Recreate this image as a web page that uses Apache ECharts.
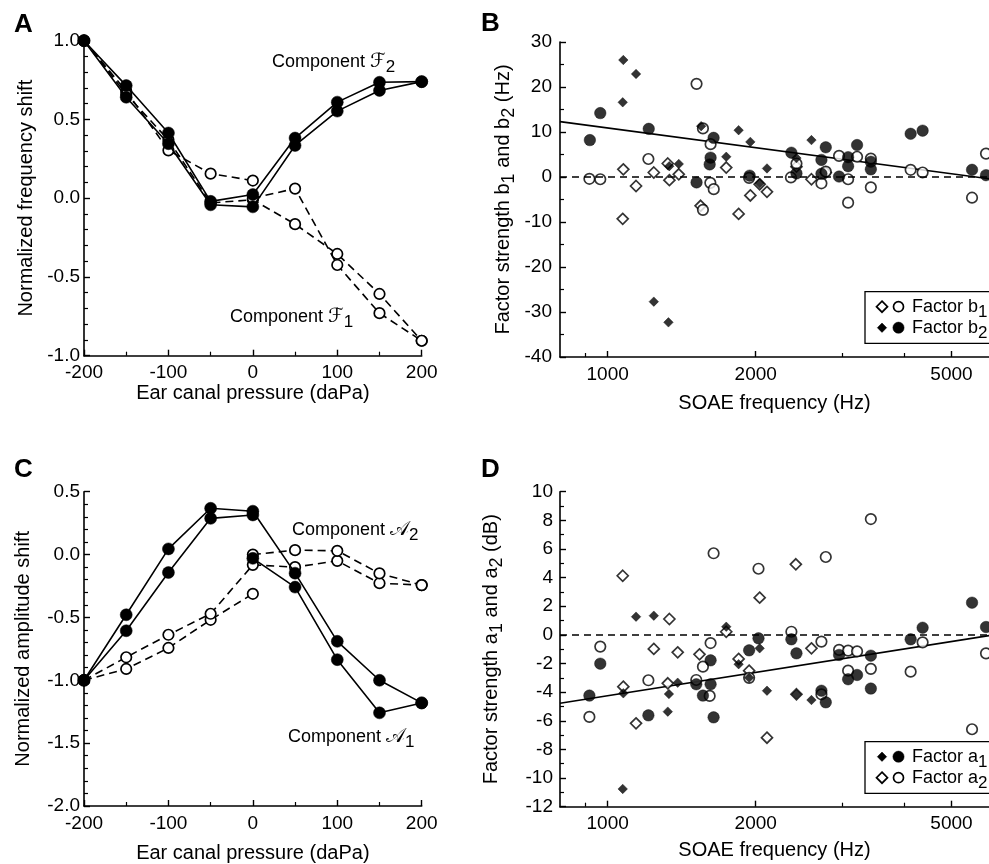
<!DOCTYPE html>
<html>
<head>
<meta charset="utf-8">
<script src="https://cdn.jsdelivr.net/npm/echarts@6/dist/echarts.min.js"></script>
<style>
  html, body { margin: 0; padding: 0; background: #ffffff; }
  #chart { width: 989px; height: 864px; }
</style>
</head>
<body>
<div id="chart"></div>
<script>
// ---------- Panels A and C: component shifts versus ear canal pressure ----------
const pressure = [-200, -150, -100, -50, 0, 50, 100, 150, 200];

// A: normalized frequency shift (F2 solid/filled, F1 dashed/open)
const freqF2a = [1.0, 0.715, 0.414, -0.020, 0.023, 0.382, 0.610, 0.736, 0.740];
const freqF2b = [1.0, 0.641, 0.346, -0.042, -0.055, 0.335, 0.553, 0.684, 0.740];
const freqF1a = [1.0, 0.680, 0.304, 0.156, 0.112, null, null, null, null];
const freqF1b = [1.0, 0.660, 0.370, -0.030, -0.010, -0.165, -0.354, -0.608, -0.905];
const freqF1c = [null, null, null, null, 0.000, 0.061, -0.424, -0.730, -0.905];

// C: normalized amplitude shift (A1 solid/filled, A2 dashed/open)
const ampA1a = [-1.0, -0.479, 0.045, 0.368, 0.345, -0.148, -0.690, -1.000, -1.180];
const ampA1b = [-1.0, -0.606, -0.143, 0.288, 0.315, null, null, null, null];
const ampA1c = [null, null, null, null, -0.030, -0.259, -0.836, -1.259, -1.180];
const ampA2a = [-1.0, -0.910, -0.743, -0.519, -0.312, null, null, null, null];
const ampA2b = [-1.0, -0.817, -0.638, -0.471, -0.082, -0.100, -0.050, -0.228, -0.243];
const ampA2c = [null, null, null, null, 0.000, 0.035, 0.030, -0.150, -0.243];

// ---------- Panels B and D: factor strengths versus SOAE frequency ----------
const freqTicks = [1000, 2000, 5000];
const freqMinorTicks = [900, 3000, 4000];
const freqRange = [800, 5960];

// B: factor b1 (open), b2 (filled) in Hz
const b1DiamondFreq = [1076, 1073, 1142, 1241, 1325, 1335, 1395, 1545, 1742, 1846, 1950, 2037, 2108, 2420, 2596, 2776];
const b1DiamondVal  = [1.7, -9.3, -2.0, 1.0, 3.0, -0.7, 0.6, -6.4, 2.1, -8.2, -4.1, -1.6, -3.3, 2.3, -0.5, 1.0];
const b1CircleFreq  = [918, 966, 1210, 1516, 1562, 1619, 1617, 1643, 1562, 1939, 2358, 2420, 2720, 2776, 2954, 3082, 3082, 3214, 3428, 3428, 4130, 4368, 5505, 5877];
const b1CircleVal   = [-0.4, -0.5, 4.0, 20.7, 10.8, 7.3, -1.3, -2.7, -7.3, -0.2, -0.1, 3.0, -1.4, 1.2, 4.7, -0.5, -5.7, 4.5, 4.1, -2.3, 1.6, 1.0, -4.6, 5.2];
const b2DiamondFreq = [1076, 1142, 1073, 1241, 1329, 1549, 1334, 1395, 1742, 1846, 1950, 2108, 2037, 2596, 2420];
const b2DiamondVal  = [26.0, 22.9, 16.6, -27.7, -32.3, 11.3, 2.4, 2.9, 4.5, 10.4, 7.8, 1.9, -1.4, 8.2, 4.2];
const b2CircleFreq  = [920, 966, 1212, 1516, 1642, 1619, 1612, 1944, 2363, 2420, 2720, 2776, 2720, 2954, 3082, 3082, 3214, 3428, 3428, 4130, 4368, 5505, 5877];
const b2CircleVal   = [8.2, 14.2, 10.7, -1.2, 8.7, 4.3, 2.8, 0.3, 5.4, 0.8, 3.8, 6.6, 0.7, 0.1, 4.4, 2.4, 7.1, 3.4, 1.7, 9.6, 10.3, 1.6, 0.4];
const bTrend = [12.3, -0.4];   // regression line at freqRange ends

// D: factor a1 (filled), a2 (open) in dB
const a1DiamondFreq = [1142, 1241, 1073, 1076, 1332, 1325, 1388, 1742, 1846, 1939, 2037, 2108, 2420, 2596];
const a1DiamondVal  = [1.27, 1.34, -10.76, -4.08, -4.13, -5.36, -3.34, 0.57, -2.05, -3.0, -0.94, -3.9, -4.15, -4.55];
const a1CircleFreq  = [918, 966, 1210, 1514, 1562, 1619, 1619, 1642, 1939, 2026, 2363, 2420, 2720, 2776, 2954, 3082, 3214, 3428, 3428, 4130, 4368, 5505, 5877];
const a1CircleVal   = [-4.24, -2.01, -5.62, -3.45, -4.24, -1.78, -3.45, -5.76, -1.08, -0.24, -0.31, -1.29, -3.9, -4.71, -1.4, -3.1, -2.8, -1.45, -3.75, -0.31, 0.5, 2.25, 0.55];
const a2DiamondFreq = [1073, 1076, 1142, 1241, 1335, 1325, 1388, 1537, 1742, 1846, 1939, 2037, 2108, 2413, 2420, 2596];
const a2DiamondVal  = [4.13, -3.62, -6.18, -0.98, 1.11, -3.38, -1.22, -1.36, 0.22, -1.68, -2.5, 2.6, -7.18, 4.93, -4.15, -0.94];
const a2CircleFreq  = [918, 966, 1210, 1514, 1562, 1619, 1612, 1642, 1939, 2026, 2363, 2720, 2720, 2776, 2954, 3082, 3214, 3082, 3428, 3428, 4130, 4368, 5505, 5877];
const a2CircleVal   = [-5.73, -0.82, -3.17, -3.15, -2.22, -0.57, -4.26, 5.7, -3.0, 4.62, 0.22, -0.47, -4.15, 5.44, -1.05, -1.1, -1.15, -2.5, 8.09, -2.37, -2.57, -0.52, -6.59, -1.29];
const aTrend = [-4.78, -0.05];

// ---------- styling helpers ----------
const FONT = '"Liberation Sans", Arial, Helvetica, sans-serif';
const SCRIPT_FONT = '"DejaVu Serif", "DejaVu Sans", serif';
const INK = '#000000';
const lg = f => Math.log10(f);

const richText = {
  t: { fontFamily: FONT, fontSize: 18, color: INK },
  f: { fontFamily: SCRIPT_FONT, fontSize: 20, fontStyle: 'italic', color: INK },
  g: { fontFamily: SCRIPT_FONT, fontSize: 20, color: INK },
  s: { fontFamily: FONT, fontSize: 17, color: INK, padding: [11, 0, 0, 0] }
};

function valueAxisBase(grid) {
  return {
    gridIndex: grid,
    type: 'value',
    axisLine: { show: true, onZero: false, lineStyle: { color: INK, width: 1.6 } },
    axisTick: { show: true, inside: true, length: 6, lineStyle: { color: INK, width: 1.4 } },
    minorTick: { show: true, length: 4, lineStyle: { color: INK, width: 1.2 } },
    axisLabel: { color: INK, fontFamily: FONT, fontSize: 19 },
    splitLine: { show: false },
    minorSplitLine: { show: false },
    nameLocation: 'middle',
    nameTextStyle: { color: INK, fontFamily: FONT, fontSize: 20 }
  };
}

function pressureAxis(grid, gap) {
  const ax = valueAxisBase(grid);
  ax.min = -200; ax.max = 200; ax.interval = 100;
  ax.minorTick.splitNumber = 2;
  ax.axisLabel.margin = 8;
  ax.name = 'Ear canal pressure (daPa)';
  ax.nameGap = gap;
  return ax;
}

function freqAxis(grid, gap) {
  const ax = valueAxisBase(grid);
  ax.min = lg(freqRange[0]); ax.max = lg(freqRange[1]);
  ax.minorTick = { show: false };
  ax.axisTick.customValues = freqTicks.map(lg);
  ax.axisLabel.customValues = freqTicks.map(lg);
  ax.axisLabel.formatter = v => String(Math.round(Math.pow(10, v)));
  ax.axisLabel.margin = 8;
  ax.name = 'SOAE frequency (Hz)';
  ax.nameGap = gap;
  return ax;
}

function freqMinorAxis(grid) {
  return {
    gridIndex: grid, type: 'value', position: 'bottom',
    min: lg(freqRange[0]), max: lg(freqRange[1]),
    axisLine: { show: false, onZero: false },
    axisTick: { show: true, inside: true, length: 4, customValues: freqMinorTicks.map(lg), lineStyle: { color: INK, width: 1.2 } },
    axisLabel: { show: false },
    splitLine: { show: false }
  };
}

function yAxis(grid, min, max, interval, minorSplit, name, gap, margin, decimals, rich) {
  const ax = valueAxisBase(grid);
  ax.min = min; ax.max = max; ax.interval = interval;
  ax.minorTick.splitNumber = minorSplit;
  ax.axisLabel.margin = margin;
  ax.axisLabel.formatter = v => v.toFixed(decimals);
  ax.name = name;
  ax.nameGap = gap;
  if (rich) ax.nameTextStyle.rich = {
    t: { fontFamily: FONT, fontSize: 20, color: INK },
    s: { fontFamily: FONT, fontSize: 18, color: INK, padding: [11, 0, 0, 0] }
  };
  return ax;
}

function curve(axis, ys, filled) {
  return {
    type: 'line',
    xAxisIndex: axis.x, yAxisIndex: axis.y,
    data: pressure.map((p, i) => [p, ys[i] === null ? '-' : ys[i]]),
    connectNulls: false,
    symbol: 'circle',
    symbolSize: filled ? 12 : 10.5,
    showAllSymbol: true,
    lineStyle: { color: INK, width: 1.6, type: filled ? 'solid' : [8, 5] },
    itemStyle: filled
      ? { color: INK, borderColor: INK, borderWidth: 0.5 }
      : { color: '#ffffff', borderColor: INK, borderWidth: 1.7 },
    emphasis: { disabled: true },
    animation: false,
    z: filled ? 3 : 2
  };
}

function dots(axis, freqs, vals, shape, filled) {
  const isDiamond = shape === 'diamond';
  return {
    type: 'scatter',
    xAxisIndex: axis.x, yAxisIndex: axis.y,
    data: freqs.map((f, i) => [lg(f), vals[i]]),
    symbol: shape,
    symbolSize: isDiamond ? (filled ? 9.5 : 11) : (filled ? 11.5 : 10.5),
    clip: false,
    itemStyle: filled
      ? { color: INK, borderColor: INK, borderWidth: 0.5 }
      : { color: '#ffffff', borderColor: INK, borderWidth: 1.7 },
    emphasis: { disabled: true },
    animation: false,
    z: filled ? 4 : 3
  };
}

function trend(axis, vals) {
  return {
    type: 'line',
    xAxisIndex: axis.x, yAxisIndex: axis.y,
    data: freqRange.map((f, i) => [lg(f), vals[i]]),
    symbol: 'none',
    lineStyle: { color: INK, width: 1.6 },
    emphasis: { disabled: true },
    animation: false,
    z: 2,
    markLine: {
      silent: true, symbol: 'none', animation: false,
      label: { show: false },
      lineStyle: { color: INK, width: 1.5, type: [7, 5] },
      data: [{ yAxis: 0 }]
    }
  };
}

// ---------- legend boxes and labels ----------
function diamondPts(cx, cy, h) {
  return [[cx, cy - h], [cx + h, cy], [cx, cy + h], [cx - h, cy]];
}

function legendRow(x, y, filled, label) {
  const fill = filled ? INK : '#ffffff';
  const h = filled ? 4.7 : 5.5;
  return [
    { type: 'polygon', shape: { points: diamondPts(x + 17, y, h) },
      style: { fill: fill, stroke: INK, lineWidth: filled ? 0.5 : 1.7 }, z: 10 },
    { type: 'circle', shape: { cx: x + 33.5, cy: y, r: filled ? 5.6 : 5 },
      style: { fill: fill, stroke: INK, lineWidth: filled ? 0.5 : 1.7 }, z: 10 },
    { type: 'text', x: x + 47, y: y, z: 10,
      style: { text: label, rich: richText, verticalAlign: 'middle', align: 'left' } }
  ];
}

function legendBox(x, y, rows) {
  const els = [{ type: 'rect', shape: { x: x, y: y, width: 140, height: 51.6 },
    style: { fill: '#ffffff', stroke: INK, lineWidth: 1.3 }, z: 9 }];
  rows.forEach((r, i) => els.push(...legendRow(x, y + 15 + i * 21, r.filled, r.label)));
  return els;
}

function panelLetter(ch, x, y) {
  return { type: 'text', x: x, y: y, z: 10,
    style: { text: ch, fill: INK, font: 'bold 26px ' + FONT, verticalAlign: 'middle' } };
}

function note(text, x, y) {
  return { type: 'text', x: x, y: y, z: 10,
    style: { text: text, rich: richText, verticalAlign: 'middle', align: 'left' } };
}

const AX_A = { x: 0, y: 0 }, AX_B = { x: 1, y: 1 }, AX_C = { x: 3, y: 2 }, AX_D = { x: 4, y: 3 };

const option = {
  backgroundColor: '#ffffff',
  animation: false,
  grid: [
    { left: 84, top: 40.7, width: 337.7, height: 315 },
    { left: 560, top: 42, width: 429, height: 315 },
    { left: 84, top: 491.7, width: 337.7, height: 315 },
    { left: 560, top: 491.7, width: 429, height: 315 }
  ],
  xAxis: [
    pressureAxis(0, 28),
    freqAxis(1, 36),
    freqMinorAxis(1),
    pressureAxis(2, 37),
    freqAxis(3, 34),
    freqMinorAxis(3)
  ],
  yAxis: [
    yAxis(0, -1, 1, 0.5, 5, 'Normalized frequency shift', 48, 4, 1, false),
    yAxis(1, -40, 30, 10, 2, '{t|Factor strength b}{s|1}{t| and b}{s|2}{t| (Hz)}', 42, 8, 0, true),
    yAxis(2, -2, 0.5, 0.5, 5, 'Normalized amplitude shift', 51, 4, 1, false),
    yAxis(3, -12, 10, 2, 2, '{t|Factor strength a}{s|1}{t| and a}{s|2}{t| (dB)}', 54, 7, 0, true)
  ],
  series: [
    // A
    curve(AX_A, freqF1a, false),
    curve(AX_A, freqF1b, false),
    curve(AX_A, freqF1c, false),
    curve(AX_A, freqF2a, true),
    curve(AX_A, freqF2b, true),
    // B
    trend(AX_B, bTrend),
    dots(AX_B, b1DiamondFreq, b1DiamondVal, 'diamond', false),
    dots(AX_B, b1CircleFreq, b1CircleVal, 'circle', false),
    dots(AX_B, b2DiamondFreq, b2DiamondVal, 'diamond', true),
    dots(AX_B, b2CircleFreq, b2CircleVal, 'circle', true),
    // C
    curve(AX_C, ampA1a, true),
    curve(AX_C, ampA1b, true),
    curve(AX_C, ampA1c, true),
    curve(AX_C, ampA2a, false),
    curve(AX_C, ampA2b, false),
    curve(AX_C, ampA2c, false),
    // D
    trend(AX_D, aTrend),
    dots(AX_D, a2DiamondFreq, a2DiamondVal, 'diamond', false),
    dots(AX_D, a2CircleFreq, a2CircleVal, 'circle', false),
    dots(AX_D, a1DiamondFreq, a1DiamondVal, 'diamond', true),
    dots(AX_D, a1CircleFreq, a1CircleVal, 'circle', true)
  ],
  graphic: [
    panelLetter('A', 14, 25),
    panelLetter('B', 481, 24),
    panelLetter('C', 14, 470),
    panelLetter('D', 481, 470),
    note('{t|Component }{f|ℱ}{s|2}', 272, 62),
    note('{t|Component }{f|ℱ}{s|1}', 230, 317),
    note('{t|Component }{g|𝒜}{s|2}', 292, 530),
    note('{t|Component }{g|𝒜}{s|1}', 288, 737),
    ...legendBox(865, 291.7, [
      { filled: false, label: '{t|Factor b}{s|1}' },
      { filled: true, label: '{t|Factor b}{s|2}' }
    ]),
    ...legendBox(865, 741.7, [
      { filled: true, label: '{t|Factor a}{s|1}' },
      { filled: false, label: '{t|Factor a}{s|2}' }
    ])
  ]
};

const chart = echarts.init(document.getElementById('chart'), null, { renderer: 'canvas' });
chart.setOption(option);
</script>
</body>
</html>
